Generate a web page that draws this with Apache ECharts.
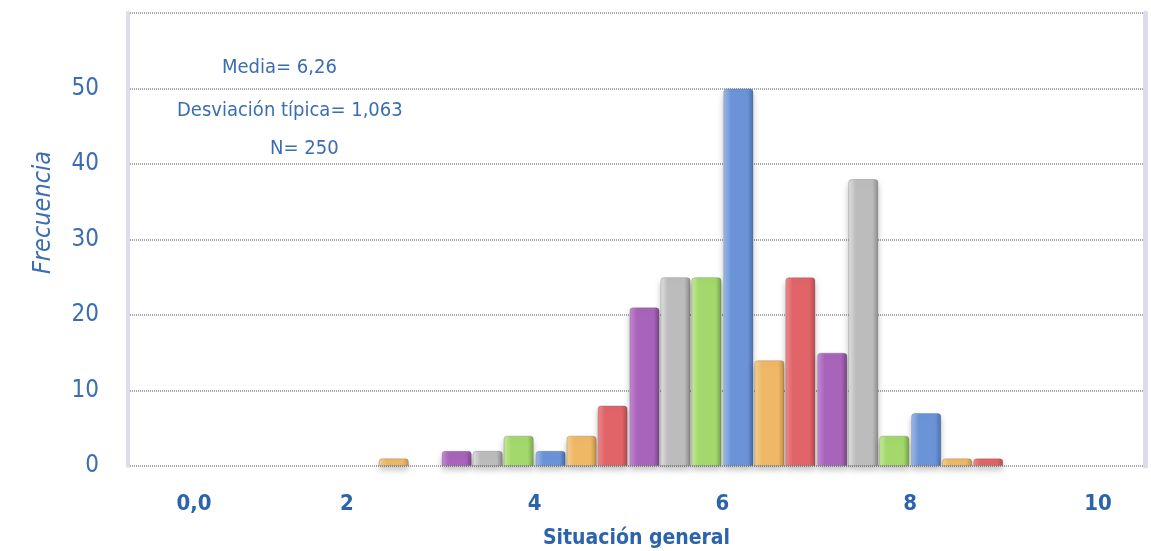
<!DOCTYPE html>
<html>
<head>
<meta charset="utf-8">
<script src="https://cdn.jsdelivr.net/npm/echarts@6/dist/echarts.min.js"></script>
<style>
  html, body { margin: 0; padding: 0; background: #ffffff; }
  #chart { width: 1151px; height: 551px; }
</style>
</head>
<body>
<div id="chart"></div>
<script>
// ---- data ----
const binCenters = [2.50, 2.83, 3.17, 3.50, 3.83, 4.17, 4.50, 4.83, 5.17, 5.50,
                    5.83, 6.17, 6.50, 6.83, 7.17, 7.50, 7.83, 8.17, 8.50, 8.83];
const frequencies = [1, 0, 2, 2, 4, 2, 4, 8, 21, 25,
                     25, 50, 14, 25, 15, 38, 4, 7, 1, 1];
const xTickValues = [0, 2, 4, 6, 8, 10];
const yTickValues = [0, 10, 20, 30, 40, 50];
const statsLines = ['Media= 6,26', 'Desviación típica= 1,063', 'N= 250'];
const xTitle = 'Situación general';
const yTitle = 'Frecuencia';

// ---- styling ----
const palette = [
  ['#f7d08e', '#efb866', '#c99446'], // orange
  ['#f08a8d', '#e06468', '#b84c50'], // red
  ['#c98ad8', '#a764ba', '#7f4a90'], // purple
  ['#e2e2e2', '#bcbcbc', '#8f8f8f'], // gray
  ['#c6ec98', '#a3d86c', '#79aa4c'], // green
  ['#9dbcec', '#6b94d8', '#4a6fae']  // blue
];
const FONT = "'Liberation Sans Narrow', 'DejaVu Sans Condensed', 'Open Sans', sans-serif";
const BLUE_TXT = '#3b6db4';

function grad(c) {
  return new echarts.graphic.LinearGradient(0, 0, 1, 0, [
    { offset: 0, color: c[0] },
    { offset: 0.25, color: c[1] },
    { offset: 0.8, color: c[1] },
    { offset: 1, color: c[2] }
  ]);
}

const barData = binCenters.map((x, i) => {
  const item = {
    value: [x, frequencies[i]],
    itemStyle: { color: grad(palette[i % palette.length]) }
  };
  if (frequencies[i] === 0) {
    item.itemStyle.borderWidth = 0;
    item.itemStyle.shadowBlur = 0;
    item.itemStyle.shadowOffsetY = 0;
    item.itemStyle.opacity = 0;
  }
  return item;
});

const chart = echarts.init(document.getElementById('chart'));
chart.setOption({
  backgroundColor: '#ffffff',
  animation: false,
  grid: { left: 128, right: 6, top: 13, bottom: 85, containLabel: false, outerBoundsMode: 'none' },
  xAxis: {
    type: 'value',
    min: -0.33,
    max: 10.5,
    axisLine: { show: false, onZero: false },
    axisTick: { show: false },
    splitLine: { show: false },
    axisLabel: {
      customValues: xTickValues,
      margin: 27,
      fontFamily: FONT,
      fontSize: 22,
      fontWeight: 'bold',
      color: '#2c63ad',
      formatter: v => v === 0 ? '{z|0,0}' : String(v),
      rich: { z: { fontFamily: FONT, fontSize: 22, fontWeight: 'bold', color: '#2c63ad', padding: [0, 0, 0, 70] } }
    },
    name: xTitle,
    nameLocation: 'middle',
    nameGap: 62,
    nameTextStyle: { fontFamily: FONT, fontSize: 21, fontWeight: 'bold', color: '#2c63ad' }
  },
  yAxis: [{
    type: 'value',
    min: 0,
    max: 60,
    interval: 10,
    axisLine: { show: true, onZero: false, lineStyle: { color: '#dcdcea', width: 4 } },
    axisTick: { show: false },
    splitLine: { show: true, lineStyle: { color: '#8a8a8a', type: [1, 1], width: 1.5 } },
    axisLabel: {
      customValues: yTickValues,
      margin: 29,
      fontFamily: FONT,
      fontSize: 24,
      color: BLUE_TXT,
      padding: [0, 0, 14, 0]
    },
    name: yTitle,
    nameLocation: 'middle',
    nameGap: 72,
    nameRotate: 90,
    nameTextStyle: { fontFamily: FONT, fontSize: 25, fontStyle: 'italic', color: BLUE_TXT, padding: [0, 0, 0, 54] }
  }, {
    type: 'value',
    position: 'right',
    min: 0,
    max: 60,
    interval: 10,
    axisLine: { show: true, onZero: false, lineStyle: { color: '#dcdcea', width: 5 } },
    axisTick: { show: false },
    axisLabel: { show: false },
    splitLine: { show: false }
  }],
  series: [{
    type: 'bar',
    data: barData,
    barWidth: 30,
    itemStyle: {
      borderRadius: [3, 3, 0, 0],
      borderColor: 'rgba(90,90,90,0.35)',
      borderWidth: 0.8,
      shadowColor: 'rgba(0,0,0,0.25)',
      shadowBlur: 6,
      shadowOffsetY: 4
    }
  }],
  graphic: [
    { type: 'text', left: 222, top: 58, style: { text: statsLines[0], font: `20px ${FONT}`, fill: BLUE_TXT } },
    { type: 'text', left: 177, top: 101, style: { text: statsLines[1], font: `20px ${FONT}`, fill: BLUE_TXT } },
    { type: 'text', left: 270, top: 139, style: { text: statsLines[2], font: `20px ${FONT}`, fill: BLUE_TXT } }
  ]
});
</script>
</body>
</html>
